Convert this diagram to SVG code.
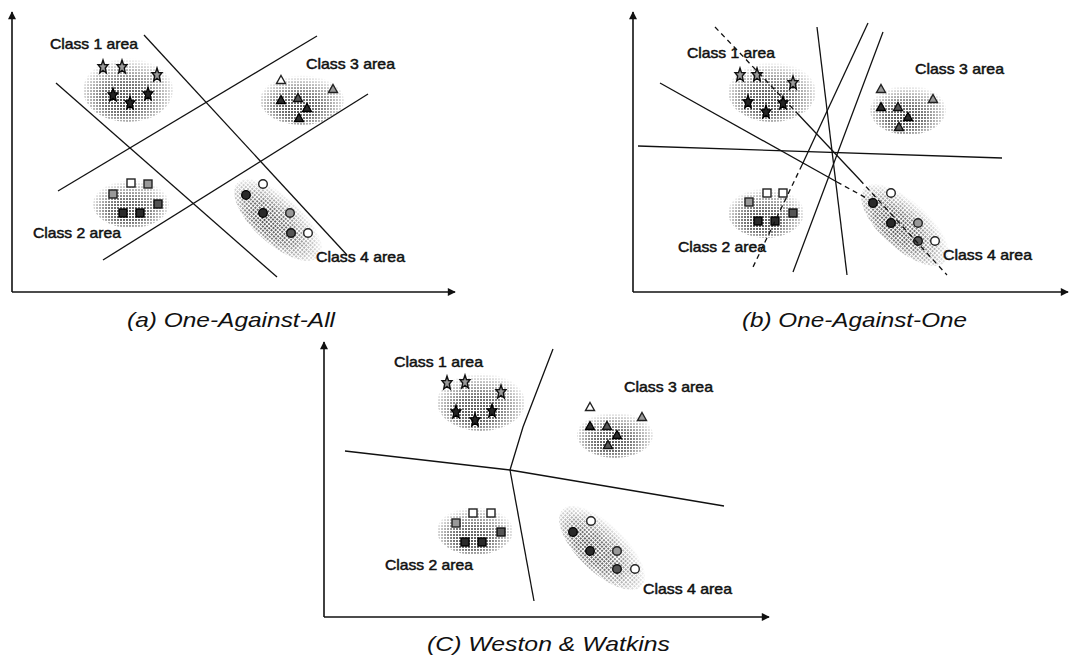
<svg xmlns="http://www.w3.org/2000/svg" xmlns:xlink="http://www.w3.org/1999/xlink" width="1074" height="666" viewBox="0 0 1074 666">
<style>
.lbl{font-family:"Liberation Sans",Arial,sans-serif;font-size:15px;fill:#111;stroke:#111;stroke-width:0.5}
.cap{font-family:"Liberation Sans",Arial,sans-serif;font-size:21px;font-style:italic;fill:#111}
.ax{stroke:#111;stroke-width:1.6;fill:none;marker-end:url(#arr)}
.ln{stroke:#111;stroke-width:1.3;fill:none}
.dl{stroke:#111;stroke-width:1.3;fill:none;stroke-dasharray:5 4}
.blob{fill:url(#dots);mask:url(#bm)}
.sl{fill:#999;stroke:#111;stroke-width:1.4}
.sd{fill:#222;stroke:#000;stroke-width:1.2}
.w{fill:#fff;stroke:#222;stroke-width:1.4}
.g{fill:#999;stroke:#222;stroke-width:1.4}
.dg{fill:#555;stroke:#111;stroke-width:1.4}
.d{fill:#2a2a2a;stroke:#000;stroke-width:1.3}
</style>
<defs>
<marker id="arr" viewBox="0 0 10 10" refX="9" refY="5" markerWidth="9" markerHeight="8" markerUnits="userSpaceOnUse" orient="auto">
<path d="M0,0 L10,5 L0,10 Z" fill="#111"/>
</marker>
<pattern id="dots" width="3" height="3" patternUnits="userSpaceOnUse">
<rect width="2" height="2" fill="#555"/>
</pattern>
<radialGradient id="gm" cx="0.5" cy="0.55" r="0.55" fx="0.42" fy="0.72">
<stop offset="0" stop-color="#fff"/>
<stop offset="0.45" stop-color="#ccc"/>
<stop offset="0.8" stop-color="#555"/>
<stop offset="1" stop-color="#000"/>
</radialGradient>
<mask id="bm" maskContentUnits="objectBoundingBox">
<rect width="1" height="1" fill="url(#gm)"/>
</mask>
<path id="star" d="M0,-7 L1.5,-2.4 L5,-2.3 L2.3,1 L3.3,6 L0,3.3 L-3.3,6 L-2.3,1 L-5,-2.3 L-1.5,-2.4 Z"/>
<path id="tri" d="M0,-4.5 L4.5,3.5 L-4.5,3.5 Z"/>
<rect id="sq" x="-4" y="-4" width="8" height="8"/>
<circle id="ci" r="4.3"/>
</defs>
<rect width="1074" height="666" fill="#fff"/>

<!-- Panel (a) -->
<g id="panel-a-axes">
<path class="ax" d="M12,292 V12"/>
<path class="ax" d="M12,292 H455"/>
</g>
<g id="panel-a-connectors">
<path class="ln" d="M144,35 L347,255"/>
<path class="ln" d="M56,83 L277,277"/>
<path class="ln" d="M58,191 L317,36"/>
<path class="ln" d="M103,260 L368,94"/>
</g>
<g id="a-class1">
<ellipse class="blob" cx="128" cy="90" rx="45" ry="32"/>
<use href="#star" class="sl" x="103" y="67"/>
<use href="#star" class="sl" x="122" y="67"/>
<use href="#star" class="sl" x="157" y="75"/>
<use href="#star" class="sd" x="113" y="95"/>
<use href="#star" class="sd" x="130" y="103"/>
<use href="#star" class="sd" x="148" y="94"/>
<text class="lbl" x="50" y="49" textLength="88" lengthAdjust="spacingAndGlyphs">Class 1 area</text>
</g>
<g id="a-class3">
<ellipse class="blob" cx="302" cy="100" rx="42" ry="25"/>
<use href="#tri" class="w" x="281" y="80"/>
<use href="#tri" class="g" x="333" y="89"/>
<use href="#tri" class="d" x="281" y="100"/>
<use href="#tri" class="dg" x="298" y="98"/>
<use href="#tri" class="d" x="307" y="108"/>
<use href="#tri" class="d" x="299" y="118"/>
<text class="lbl" x="306" y="69" textLength="89" lengthAdjust="spacingAndGlyphs">Class 3 area</text>
</g>
<g id="a-class2">
<ellipse class="blob" cx="131" cy="204" rx="38" ry="24"/>
<use href="#sq" class="w" x="131" y="183"/>
<use href="#sq" class="g" x="148" y="184"/>
<use href="#sq" class="g" x="113" y="194"/>
<use href="#sq" class="dg" x="158" y="204"/>
<use href="#sq" class="d" x="123" y="213"/>
<use href="#sq" class="d" x="140" y="213"/>
<text class="lbl" x="33" y="238" textLength="88" lengthAdjust="spacingAndGlyphs">Class 2 area</text>
</g>
<g id="a-class4">
<ellipse class="blob" cx="278" cy="220" rx="55" ry="24" transform="rotate(42 278 220)"/>
<use href="#ci" class="w" x="263" y="184"/>
<use href="#ci" class="d" x="246" y="195"/>
<use href="#ci" class="d" x="263" y="213"/>
<use href="#ci" class="g" x="290" y="213"/>
<use href="#ci" class="dg" x="291" y="233"/>
<use href="#ci" class="w" x="308" y="233"/>
<text class="lbl" x="316" y="262" textLength="89" lengthAdjust="spacingAndGlyphs">Class 4 area</text>
</g>
<text id="cap-a" class="cap" x="127" y="327" textLength="208" lengthAdjust="spacingAndGlyphs">(a) One-Against-All</text>

<!-- Panel (b) -->
<g id="panel-b-axes">
<path class="ax" d="M633,292 V12"/>
<path class="ax" d="M633,292 H1068"/>
</g>
<g id="b-class1">
<ellipse class="blob" cx="772" cy="92" rx="44" ry="30"/>
<use href="#star" class="sl" x="740" y="75"/>
<use href="#star" class="sl" x="757" y="75"/>
<use href="#star" class="sl" x="793" y="83"/>
<use href="#star" class="sd" x="748" y="102"/>
<use href="#star" class="sd" x="766" y="112"/>
<use href="#star" class="sd" x="783" y="103"/>
<text class="lbl" x="687" y="58" textLength="88" lengthAdjust="spacingAndGlyphs">Class 1 area</text>
</g>
<g id="b-class3">
<ellipse class="blob" cx="908" cy="110" rx="38" ry="25"/>
<use href="#tri" class="g" x="881" y="89"/>
<use href="#tri" class="g" x="933" y="99"/>
<use href="#tri" class="d" x="881" y="107"/>
<use href="#tri" class="dg" x="898" y="107"/>
<use href="#tri" class="d" x="908" y="117"/>
<use href="#tri" class="dg" x="899" y="127"/>
<text class="lbl" x="915" y="74" textLength="89" lengthAdjust="spacingAndGlyphs">Class 3 area</text>
</g>
<g id="b-class2">
<ellipse class="blob" cx="766" cy="213" rx="38" ry="25"/>
<use href="#sq" class="w" x="767" y="193"/>
<use href="#sq" class="w" x="783" y="193"/>
<use href="#sq" class="g" x="749" y="202"/>
<use href="#sq" class="dg" x="793" y="213"/>
<use href="#sq" class="d" x="758" y="221"/>
<use href="#sq" class="d" x="775" y="221"/>
<text class="lbl" x="678" y="252" textLength="88" lengthAdjust="spacingAndGlyphs">Class 2 area</text>
</g>
<g id="b-class4">
<ellipse class="blob" cx="905" cy="225" rx="55" ry="24" transform="rotate(42 905 225)"/>
<use href="#ci" class="w" x="891" y="193"/>
<use href="#ci" class="d" x="873" y="203"/>
<use href="#ci" class="d" x="891" y="223"/>
<use href="#ci" class="g" x="918" y="223"/>
<use href="#ci" class="dg" x="918" y="241"/>
<use href="#ci" class="w" x="935" y="241"/>
<text class="lbl" x="943" y="260" textLength="89" lengthAdjust="spacingAndGlyphs">Class 4 area</text>
</g>
<g id="panel-b-connectors">
<path class="dl" d="M715,27 L797,113"/>
<path class="ln" d="M797,113 L860,180"/>
<path class="dl" d="M860,180 L947,275"/>
<path class="ln" d="M660,83 L837,182"/>
<path class="dl" d="M837,182 L870,200"/>
<path class="ln" d="M868,23 L802,165"/>
<path class="dl" d="M802,165 L753,267"/>
<path class="ln" d="M883,32 L793,272"/>
<path class="ln" d="M817,27 L847,275"/>
<path class="ln" d="M638,146 L1002,158"/>
</g>
<text id="cap-b" class="cap" x="742" y="327" textLength="225" lengthAdjust="spacingAndGlyphs">(b) One-Against-One</text>

<!-- Panel (c) -->
<g id="panel-c-axes">
<path class="ax" d="M324,617 V342"/>
<path class="ax" d="M324,617 H769"/>
</g>
<g id="panel-c-connectors">
<path class="ln" d="M345,451 L510,470 L724,506"/>
<path class="ln" d="M510,470 L523,427 L553,349"/>
<path class="ln" d="M510,470 L534,601"/>
</g>
<g id="c-class1">
<ellipse class="blob" cx="481" cy="402" rx="44" ry="29"/>
<use href="#star" class="sl" x="447" y="383"/>
<use href="#star" class="sl" x="465" y="382"/>
<use href="#star" class="sl" x="501" y="392"/>
<use href="#star" class="sd" x="456" y="412"/>
<use href="#star" class="sd" x="475" y="420"/>
<use href="#star" class="sd" x="492" y="411"/>
<text class="lbl" x="394" y="367" textLength="89" lengthAdjust="spacingAndGlyphs">Class 1 area</text>
</g>
<g id="c-class3">
<ellipse class="blob" cx="615" cy="435" rx="38" ry="23"/>
<use href="#tri" class="w" x="590" y="407"/>
<use href="#tri" class="g" x="642" y="417"/>
<use href="#tri" class="d" x="590" y="426"/>
<use href="#tri" class="dg" x="607" y="426"/>
<use href="#tri" class="d" x="617" y="435"/>
<use href="#tri" class="dg" x="608" y="445"/>
<text class="lbl" x="624" y="392" textLength="89" lengthAdjust="spacingAndGlyphs">Class 3 area</text>
</g>
<g id="c-class2">
<ellipse class="blob" cx="475" cy="531" rx="38" ry="24"/>
<use href="#sq" class="w" x="473" y="513"/>
<use href="#sq" class="w" x="491" y="513"/>
<use href="#sq" class="g" x="456" y="523"/>
<use href="#sq" class="dg" x="501" y="532"/>
<use href="#sq" class="d" x="465" y="542"/>
<use href="#sq" class="d" x="482" y="542"/>
<text class="lbl" x="385" y="570" textLength="88" lengthAdjust="spacingAndGlyphs">Class 2 area</text>
</g>
<g id="c-class4">
<ellipse class="blob" cx="602" cy="548" rx="55" ry="24" transform="rotate(44 602 548)"/>
<use href="#ci" class="w" x="591" y="521"/>
<use href="#ci" class="d" x="573" y="532"/>
<use href="#ci" class="d" x="590" y="551"/>
<use href="#ci" class="g" x="617" y="551"/>
<use href="#ci" class="dg" x="617" y="569"/>
<use href="#ci" class="w" x="635" y="569"/>
<text class="lbl" x="643" y="594" textLength="89" lengthAdjust="spacingAndGlyphs">Class 4 area</text>
</g>
<text id="cap-c" class="cap" x="427" y="651" textLength="243" lengthAdjust="spacingAndGlyphs">(C) Weston &amp; Watkins</text>
</svg>
